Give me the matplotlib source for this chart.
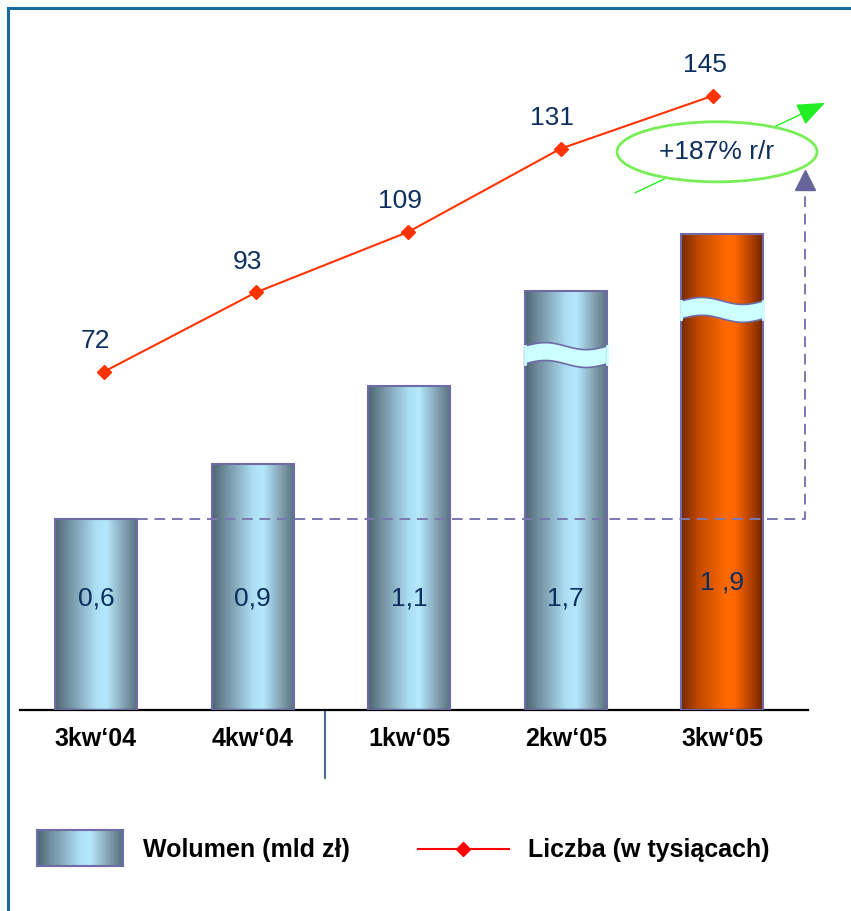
import numpy as np
import matplotlib.pyplot as plt
from matplotlib.colors import LinearSegmentedColormap
from matplotlib.patches import Rectangle, Ellipse, Polygon
from matplotlib.lines import Line2D

plt.rcParams['font.family'] = ['Liberation Sans', 'DejaVu Sans']

categories = ['3kw‘04', '4kw‘04', '1kw‘05', '2kw‘05', '3kw‘05']
volume_labels = ['0,6', '0,9', '1,1', '1,7', '1 ,9']
# drawn bar heights (the last two bars are shown broken)
bar_height = [0.60, 0.774, 1.019, 1.318, 1.497]
count = [72, 93, 109, 131, 145]

navy = '#0b2f5e'
border = '#6f6aa8'

blue_cmap = LinearSegmentedColormap.from_list('blue', [
    (0.0, '#4e6573'), (0.15, '#6f8c9b'), (0.5, '#aee0f5'),
    (0.62, '#b5e8fc'), (0.85, '#7f9cab'), (1.0, '#55707d')])
orange_cmap = LinearSegmentedColormap.from_list('orange', [
    (0.0, '#742800'), (0.2, '#c04800'), (0.55, '#ff6a00'),
    (0.65, '#ff6600'), (0.85, '#b04000'), (1.0, '#6a2400')])
grad = np.linspace(0, 1, 256).reshape(1, -1)

W, H = 851, 911
fig = plt.figure(figsize=(W / 100, H / 100), dpi=100)

ax = fig.add_axes([20 / W, (H - 710) / H, 788 / W, 680 / H])
ax.set_xlim(-0.485, 4.547)
ax.set_ylim(0, 2.138)

x = np.arange(len(categories))
bw = 0.524
for i, h in enumerate(bar_height):
    cmap = orange_cmap if i == len(bar_height) - 1 else blue_cmap
    ax.imshow(grad, cmap=cmap, extent=(x[i] - bw / 2, x[i] + bw / 2, 0, h),
              aspect='auto', zorder=2)
    ax.add_patch(Rectangle((x[i] - bw / 2, 0), bw, h, fill=False,
                           edgecolor=border, lw=1.5, zorder=3))
    ax.text(x[i], 0.35 if i < 4 else 0.40, volume_labels[i], ha='center',
            va='center', fontsize=19, color=navy, zorder=4)

# break marks on the last two bars
for i, c in [(3, 1.116), (4, 1.258)]:
    t = np.linspace(0, 1, 60)
    xs = x[i] - bw / 2 + t * bw
    wave = 0.011 * np.sin(2 * np.pi * t)
    top = c + 0.028 + wave
    bot = c - 0.028 + wave
    pts = np.column_stack([np.r_[xs, xs[::-1]], np.r_[top, bot[::-1]]])
    ax.add_patch(Polygon(pts, closed=True, facecolor='#ccffff',
                         edgecolor=border, lw=1.2, zorder=5))
    ax.plot([xs[0], xs[0]], [bot[0], top[0]], color='#ccffff', lw=2, zorder=6)
    ax.plot([xs[-1], xs[-1]], [bot[-1], top[-1]], color='#ccffff', lw=2, zorder=6)

# dashed reference from first bar
xr = 4.527
ax.plot([x[0] + bw / 2, xr, xr], [bar_height[0], bar_height[0], 1.635],
        color='#7b78b0', lw=1.4, dashes=(5.5, 3.5), zorder=4.5, clip_on=False)
ax.plot([xr], [1.665], marker='^', ms=15, color='#66659a', zorder=6,
        clip_on=False)

# growth arrow and ellipse
ax.annotate('', xy=(4.656, 1.909), xytext=(3.442, 1.626),
            arrowprops=dict(arrowstyle='-|>,head_length=0.7,head_width=0.28',
                            color='#22ee22', lw=1, mutation_scale=25,
                            shrinkA=0, shrinkB=0),
            annotation_clip=False, zorder=6)
ax.add_patch(Ellipse((3.966, 1.755), 1.277, 0.189, facecolor='white',
                     edgecolor='#77ee55', lw=2, zorder=7, clip_on=False))
ax.text(3.966, 1.755, '+187% r/r', ha='center', va='center', fontsize=19,
        color=navy, zorder=8)

ax.set_xticks(x)
ax.set_xticklabels(categories, fontsize=18, fontweight='bold')
ax.tick_params(axis='x', length=0, pad=12)
ax.set_yticks([])
for s in ['top', 'left', 'right']:
    ax.spines[s].set_visible(False)
ax.spines['bottom'].set_linewidth(1.6)
ax.spines['bottom'].set_color('black')
ax.axvline(1.46, ymin=-0.1, ymax=0, color='#1f4f7a', lw=1.2, clip_on=False)

# count line (drawn slightly narrower than the bar row)
ax2 = ax.twinx()
ax2.set_ylim(-17.5, 162.4)
xl = x * 0.972 + 0.051
ax2.plot(xl, count, color='#ff3300', lw=1.5, marker='D', ms=7,
         markerfacecolor='#ff3300', markeredgecolor='#ff3300', zorder=5)
for xi, v in zip(xl, count):
    ax2.annotate(str(v), (xi, v), xytext=(-6, 22), textcoords='offset points',
                 ha='center', va='center', fontsize=19, color=navy)
ax2.set_yticks([])
for s in ax2.spines.values():
    s.set_visible(False)

# legend
lax = fig.add_axes([37 / W, (H - 866) / H, 86 / W, 36 / H])
lax.imshow(grad, cmap=blue_cmap, aspect='auto')
lax.set_xticks([])
lax.set_yticks([])
for s in lax.spines.values():
    s.set_color(border)
    s.set_linewidth(1.5)
fig.text(143 / W, 1 - 850 / H, 'Wolumen (mld zł)', fontsize=18,
         fontweight='bold', va='center', ha='left')
fig.add_artist(Line2D([418 / W, 509 / W], [1 - 849 / H, 1 - 849 / H],
                      color='#ff0000', lw=1.5))
fig.add_artist(Line2D([463 / W], [1 - 849 / H], color='#ff0000', marker='D',
                      ms=7, lw=0))
fig.text(528 / W, 1 - 850 / H, 'Liczba (w tysiącach)', fontsize=18,
         fontweight='bold', va='center', ha='left')

# frame lines
fig.add_artist(Line2D([8 / W, 8 / W], [0, 1 - 8 / H], color='#1a6aa0', lw=2.2))
fig.add_artist(Line2D([8 / W, 1], [1 - 8 / H, 1 - 8 / H], color='#1a6aa0', lw=2.2))

fig.savefig('out.png', dpi=100)
